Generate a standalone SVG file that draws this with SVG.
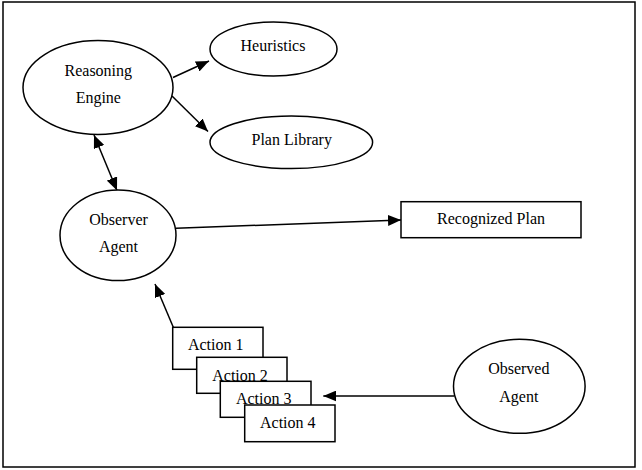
<svg xmlns="http://www.w3.org/2000/svg" width="642" height="470" viewBox="0 0 642 470">
<defs>
<marker id="ah" markerUnits="userSpaceOnUse" markerWidth="13" markerHeight="11" refX="13" refY="5.5" orient="auto-start-reverse">
<path d="M0,0 L13,5.5 L0,11 z" fill="#000"/>
</marker>
</defs>
<style>
.s{fill:#fff;stroke:#000;stroke-width:1.5}
.t{font-family:"Liberation Serif","Times New Roman",serif;font-size:16px;fill:#000;text-anchor:middle}
.c{stroke:#000;stroke-width:1.5;fill:none;marker-end:url(#ah)}
</style>
<rect x="3" y="2" width="632" height="465" fill="#fff" stroke="#000" stroke-width="1.5"/>
<g id="connectors">
<line class="c" x1="173" y1="77.5" x2="209" y2="61"/>
<line class="c" x1="172" y1="96" x2="208" y2="131.5"/>
<line class="c" x1="94" y1="135" x2="117" y2="190.5" style="marker-start:url(#ah)"/>
<line class="c" x1="176" y1="228.3" x2="401" y2="220"/>
<line class="c" x1="173.3" y1="327.3" x2="155" y2="284"/>
<line class="c" x1="454" y1="396" x2="323.3" y2="396"/>
</g>
<g id="reasoning-engine">
<ellipse class="s" cx="98" cy="87.5" rx="75" ry="47"/>
<text class="t" x="98.3" y="76">Reasoning</text>
<text class="t" x="98.3" y="103">Engine</text>
</g>
<g id="heuristics">
<ellipse class="s" cx="273.5" cy="49" rx="63.5" ry="27"/>
<text class="t" x="273" y="51">Heuristics</text>
</g>
<g id="plan-library">
<ellipse class="s" cx="291.3" cy="142.3" rx="81.3" ry="26.3"/>
<text class="t" x="291.7" y="145">Plan Library</text>
</g>
<g id="observer-agent">
<ellipse class="s" cx="118" cy="235.3" rx="58" ry="45.3"/>
<text class="t" x="118.5" y="225">Observer</text>
<text class="t" x="118.5" y="251.5">Agent</text>
</g>
<g id="recognized-plan">
<rect class="s" x="401" y="201.7" width="180" height="36"/>
<text class="t" x="491" y="224">Recognized Plan</text>
</g>
<g id="action-1">
<rect class="s" x="172.7" y="327.3" width="90.3" height="42"/>
<text class="t" x="215.7" y="350">Action 1</text>
</g>
<g id="action-2">
<rect class="s" x="196.7" y="357.3" width="90.3" height="36"/>
<text class="t" x="240" y="380.7">Action 2</text>
</g>
<g id="action-3">
<rect class="s" x="220.3" y="381.3" width="90.7" height="36"/>
<text class="t" x="263.7" y="404">Action 3</text>
</g>
<g id="action-4">
<rect class="s" x="244.7" y="405" width="90.3" height="36.7"/>
<text class="t" x="287.8" y="428.3">Action 4</text>
</g>
<g id="observed-agent">
<ellipse class="s" cx="519.3" cy="386.3" rx="65.8" ry="47"/>
<text class="t" x="518.8" y="374">Observed</text>
<text class="t" x="518.8" y="401.7">Agent</text>
</g>
</svg>
